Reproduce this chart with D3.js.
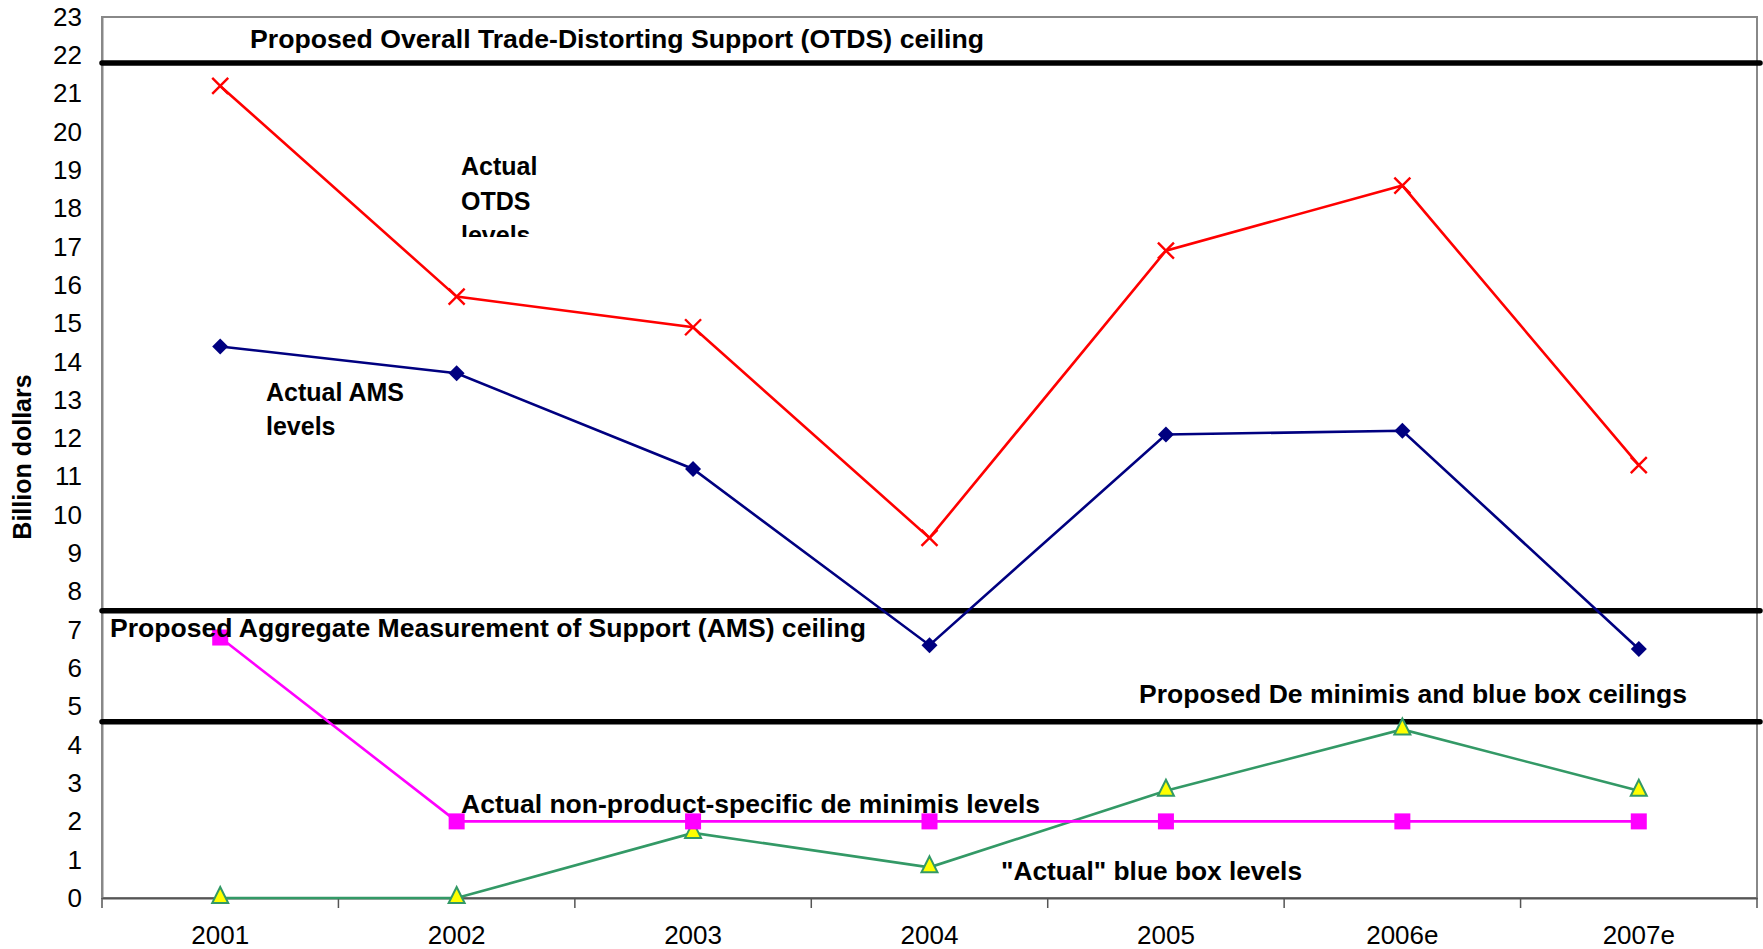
<!DOCTYPE html>
<html>
<head>
<meta charset="utf-8">
<script src="https://cdn.jsdelivr.net/npm/d3@7"></script>
<style>
  body { margin: 0; background: #fff; }
  svg text { font-family: "Liberation Sans", Arial, sans-serif; }
</style>
</head>
<body>
<div id="chart"></div>
<script>
// categories and series (billion dollars)
var years = ["2001", "2002", "2003", "2004", "2005", "2006e", "2007e"]
var otds = [21.2, 15.7, 14.9, 9.4, 16.9, 18.6, 11.3]
var ams = [14.4, 13.7, 11.2, 6.6, 12.1, 12.2, 6.5]
var deMinimis = [6.8, 2.0, 2.0, 2.0, 2.0, 2.0, 2.0]
var blueBox = [0, 0, 1.7, 0.8, 2.8, 4.4, 2.8]

// proposed ceilings
var ceilings = [21.8, 7.5, 4.6]
var yTicks = d3.range(0, 24)

var width = 1763, height = 949
var margin = { top: 17, right: 6, bottom: 51, left: 102 }

var svg = d3.select("#chart")
  .append("svg")
  .attr("width", width)
  .attr("height", height)

var x = d3.scaleBand()
  .domain(years)
  .range([margin.left, width - margin.right])

var y = d3.scaleLinear()
  .domain([0, 23])
  .range([height - margin.bottom, margin.top])

// plot frame
svg.append("rect")
  .attr("x", margin.left)
  .attr("y", margin.top)
  .attr("width", width - margin.right - margin.left)
  .attr("height", height - margin.bottom - margin.top)
  .attr("fill", "none")
  .attr("stroke", "#888")
  .attr("stroke-width", 2)

// y axis
var yAxis = svg.append("g")
  .attr("transform", "translate(" + margin.left + ",0)")
  .call(d3.axisLeft(y).tickValues(yTicks).tickSize(0).tickPadding(20))
yAxis.select(".domain").attr("stroke", "#888").attr("stroke-width", 2)
yAxis.selectAll("text").attr("font-size", 26).attr("fill", "#000")
  .style("font-family", "'Liberation Sans', Arial, sans-serif")

// x axis
var xAxis = svg.append("g")
  .attr("transform", "translate(0," + y(0) + ")")
  .call(d3.axisBottom(x).tickSize(0).tickPadding(28).tickSizeOuter(0))
xAxis.select(".domain").attr("stroke", "#555").attr("stroke-width", 2)
xAxis.selectAll("text").attr("font-size", 26).attr("fill", "#000")
  .style("font-family", "'Liberation Sans', Arial, sans-serif")

var bounds = years.map(function (d) { return x(d) }).concat([x.range()[1]])
svg.selectAll(".xtick")
  .data(bounds)
  .enter()
  .append("line")
  .attr("x1", function (d) { return d })
  .attr("x2", function (d) { return d })
  .attr("y1", y(0))
  .attr("y2", y(0) + 10)
  .attr("stroke", "#555")
  .attr("stroke-width", 1.5)

// ceiling lines
svg.selectAll(".ceiling")
  .data(ceilings)
  .enter()
  .append("line")
  .attr("x1", margin.left)
  .attr("x2", width - 3)
  .attr("y1", function (d) { return y(d) })
  .attr("y2", function (d) { return y(d) })
  .attr("stroke", "#000")
  .attr("stroke-width", 5.5)
  .attr("stroke-linecap", "round")

var cx = function (d, i) { return x(years[i]) + x.bandwidth() / 2 }

function drawLine(values, color) {
  svg.append("path")
    .datum(values)
    .attr("fill", "none")
    .attr("stroke", color)
    .attr("stroke-width", 2.6)
    .attr("d", d3.line().x(cx).y(function (d) { return y(d) }))
}

drawLine(blueBox, "#339966")
drawLine(deMinimis, "#FF00FF")
drawLine(ams, "#000080")
drawLine(otds, "#FF0000")

// markers
svg.selectAll(".tri")
  .data(blueBox)
  .enter()
  .append("path")
  .attr("transform", function (d, i) { return "translate(" + cx(d, i) + "," + (y(d) - 2) + ")" })
  .attr("d", "M0,-9L8,7L-8,7Z")
  .attr("fill", "#FFFF00")
  .attr("stroke", "#339966")
  .attr("stroke-width", 2)

svg.selectAll(".sq")
  .data(deMinimis)
  .enter()
  .append("rect")
  .attr("x", function (d, i) { return cx(d, i) - 8 })
  .attr("y", function (d) { return y(d) - 8 })
  .attr("width", 16)
  .attr("height", 16)
  .attr("fill", "#FF00FF")

svg.selectAll(".dia")
  .data(ams)
  .enter()
  .append("path")
  .attr("transform", function (d, i) { return "translate(" + cx(d, i) + "," + y(d) + ")" })
  .attr("d", "M0,-8L8,0L0,8L-8,0Z")
  .attr("fill", "#000080")

svg.selectAll(".cross")
  .data(otds)
  .enter()
  .append("path")
  .attr("transform", function (d, i) { return "translate(" + cx(d, i) + "," + y(d) + ")" })
  .attr("d", "M-8,-8L8,8M-8,8L8,-8")
  .attr("stroke", "#FF0000")
  .attr("stroke-width", 2.4)

// annotations
var labels = [
  { t: "Proposed Overall Trade-Distorting Support (OTDS) ceiling", x: 250, y: 48, w: 734 },
  { t: "Proposed Aggregate Measurement of Support (AMS) ceiling", x: 110, y: 637, w: 756 },
  { t: "Proposed De minimis and blue box ceilings", x: 1139, y: 703, w: 548 },
  { t: "Actual non-product-specific de minimis levels", x: 461, y: 813, w: 579 },
  { t: "\"Actual\" blue box levels", x: 1001, y: 880, w: 301 },
  { t: "Actual", x: 461, y: 175 },
  { t: "OTDS", x: 461, y: 210 },
  { t: "levels", x: 461, y: 244, clip: true },
  { t: "Actual AMS", x: 266, y: 401 },
  { t: "levels", x: 266, y: 435 }
]

svg.append("clipPath").attr("id", "otdsClip")
  .append("rect").attr("x", 440).attr("y", 140).attr("width", 200).attr("height", 97)

labels.forEach(function (l) {
  var t = svg.append("text")
    .attr("x", l.x)
    .attr("y", l.y)
    .attr("font-size", 25)
    .attr("font-weight", "bold")
    .text(l.t)
  if (l.w) t.attr("textLength", l.w).attr("lengthAdjust", "spacingAndGlyphs")
  if (l.clip) t.attr("clip-path", "url(#otdsClip)")
})

svg.append("text")
  .attr("transform", "translate(31," + 457 + ") rotate(-90)")
  .attr("text-anchor", "middle")
  .attr("font-size", 25)
  .attr("font-weight", "bold")
  .text("Billion dollars")
</script>
</body>
</html>
